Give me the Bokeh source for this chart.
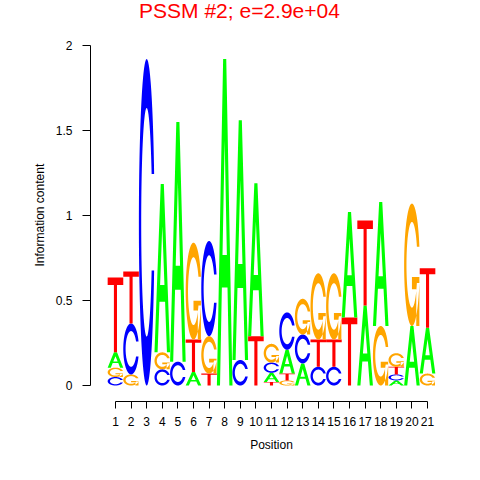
import numpy as np
from bokeh.plotting import figure
from bokeh.models import ColumnDataSource, FixedTicker, Label, Title
from bokeh.embed import file_html
from bokeh.resources import INLINE

# ---- data (information content per letter) ----
positions = list(range(1, 22))
A = [0.09, 0, 0, 0.99, 1.41, 0.08, 0, 1.92, 1.41, 0.90, 0.055, 0.14, 0.13, 0, 0, 0.62, 0.47, 0.73, 0.03, 0.35, 0.27]
C = [0.05, 0.30, 1.92, 0.095, 0.14, 0, 0.56, 0, 0.15, 0, 0.06, 0.22, 0.17, 0.11, 0.11, 0, 0, 0, 0.035, 0, 0]
G = [0.055, 0.065, 0, 0.10, 0, 0.57, 0.22, 0, 0, 0, 0.11, 0.03, 0.21, 0.39, 0.39, 0, 0, 0.35, 0.08, 0.72, 0.07]
T = [0.44, 0.305, 0, 0, 0, 0.19, 0.07, 0, 0, 0.29, 0.02, 0.04, 0, 0.16, 0.16, 0.40, 0.50, 0, 0.045, 0, 0.35]
y_ticks = [0, 0.5, 1, 1.5, 2]
y_tick_labels = ["0", "0.5", "1", "1.5", "2"]
title_text = "PSSM #2; e=2.9e+04"
colors = {"A": "#00FF00", "C": "#0000FF", "G": "#FFA500", "T": "#FF0000"}

# ---- letter outlines in the unit square (seqLogo style) ----
def _c_ring():
    a1 = np.linspace(0.3 + np.pi / 2, np.pi, 100)
    a2 = np.linspace(np.pi, 1.5 * np.pi, 100)
    xl1 = 0.5 + 0.5 * np.sin(a1); yl1 = 0.5 + 0.5 * np.cos(a1)
    xl2 = 0.5 + 0.5 * np.sin(a2); yl2 = 0.5 + 0.5 * np.cos(a2)
    xl = np.concatenate([xl1, xl2]); yl = np.concatenate([yl1, yl2])
    x = np.concatenate([xl, xl[::-1]]); y = np.concatenate([yl, 1 - yl[::-1]])
    xi1 = 0.5 + 0.35 * np.sin(a1); yi1 = 0.5 + 0.35 * np.cos(a1)
    m = yi1 <= yl1.max()
    xi1 = xi1[m]; yi1 = yi1[m].copy(); yi1[0] = yl1.max()
    xi2 = 0.5 + 0.35 * np.sin(a2); yi2 = 0.5 + 0.35 * np.cos(a2)
    xi = np.concatenate([xi1, xi2]); yi = np.concatenate([yi1, yi2])
    x1 = np.concatenate([xi, xi[::-1]]); y1 = np.concatenate([yi, 1 - yi[::-1]])
    x = np.concatenate([x, x1[::-1]]); y = np.concatenate([y, y1[::-1]])
    return x, y, xl1.max()

def shape(letter):
    if letter == "A":
        ox = np.array([0, 4, 6, 10, 8, 6.8, 3.2, 2, 0]) * 0.1
        oy = np.array([0, 10, 10, 0, 0, 3, 3, 0, 0]) * 0.1
        hx = np.array([3.6, 5, 6.4, 3.6]) * 0.1
        hy = np.array([4, 7.5, 4, 4]) * 0.1
        return [[(ox, oy), (hx, hy)]]
    if letter == "T":
        ox = np.array([0, 10, 10, 6, 6, 4, 4, 0]) * 0.1
        oy = np.array([10, 10, 9, 9, 0, 0, 9, 9]) * 0.1
        return [[(ox, oy)]]
    x, y, r1 = _c_ring()
    if letter == "C":
        return [[(x, y)]]
    h1 = 0.4
    bx = np.array([r1, 0.5, 0.5, r1 - 0.2, r1 - 0.2, r1, r1])
    by = np.array([h1, h1, h1 - 0.1, h1 - 0.1, 0, 0, h1])
    return [[(x[::-1], y[::-1])], [(bx, by)]]

series = {"A": A, "C": C, "G": G, "T": T}
xs, ys, fills = [], [], []
for j, pos in enumerate(positions):
    hts = [(series[l][j], l) for l in "ACGT"]
    order = sorted(range(4), key=lambda k: hts[k][0])
    base = 0.0
    for k in order:
        ht, l = hts[k]
        if ht <= 0:
            continue
        mp_x, mp_y = [], []
        for poly in shape(l):
            rx, ry = [], []
            for (px, py) in poly:
                rx.append(list(pos - 0.5 + px))
                ry.append(list(base + ht * py))
            mp_x.append(rx); mp_y.append(ry)
        xs.append(mp_x); ys.append(mp_y); fills.append(colors[l])
        base += ht

src = ColumnDataSource(dict(xs=xs, ys=ys, fill=fills))

# frame spans from the top of the canvas down to the x axis (y=0 at 385px, 170 px per unit)
p = figure(width=472, height=472, output_backend="svg", toolbar_location=None,
           x_range=(-0.6, 22.6), y_range=(-0.0941, 2.2647),
           min_border_left=90, min_border_right=20, min_border_top=0, min_border_bottom=71)
p.multi_polygons(xs="xs", ys="ys", fill_color="fill", line_color=None, source=src)

font = "Liberation Sans"
title = Label(x=149, y=391, x_units="screen", y_units="screen", text=title_text,
              text_align="center", text_baseline="middle", text_color="#FF0000",
              text_font=font, text_font_size="21px")
p.add_layout(title)

ylab = Title(text="Information content", align="left", offset=135, standoff=11,
             text_font=font, text_font_size="12px", text_font_style="normal",
             text_color="#000000")
p.add_layout(ylab, "left")

p.grid.visible = False
p.outline_line_color = None

xa = p.xaxis[0]
xa.ticker = FixedTicker(ticks=positions)
xa.bounds = (1, 21)
xa.major_tick_out = 7
xa.major_tick_in = 0
xa.minor_tick_out = 0
xa.minor_tick_in = 0
xa.axis_label = "Position"
xa.major_label_standoff = 8
xa.axis_label_standoff = 9

ya = p.yaxis[0]
ya.ticker = FixedTicker(ticks=y_ticks)
ya.major_label_overrides = {t: s for t, s in zip(y_ticks, y_tick_labels)}
ya.bounds = (0, 2)
ya.major_tick_out = 8
ya.major_tick_in = 0
ya.minor_tick_out = 0
ya.minor_tick_in = 0
ya.major_label_standoff = 10

for ax in (xa, ya):
    ax.axis_line_color = "#000000"
    ax.major_tick_line_color = "#000000"
    ax.major_label_text_font = font
    ax.major_label_text_font_size = "12px"
    ax.major_label_text_color = "#000000"
    ax.axis_label_text_font = font
    ax.axis_label_text_font_size = "12px"
    ax.axis_label_text_font_style = "normal"
    ax.axis_label_text_color = "#000000"

open("out.html", "w").write(file_html(p, INLINE))
